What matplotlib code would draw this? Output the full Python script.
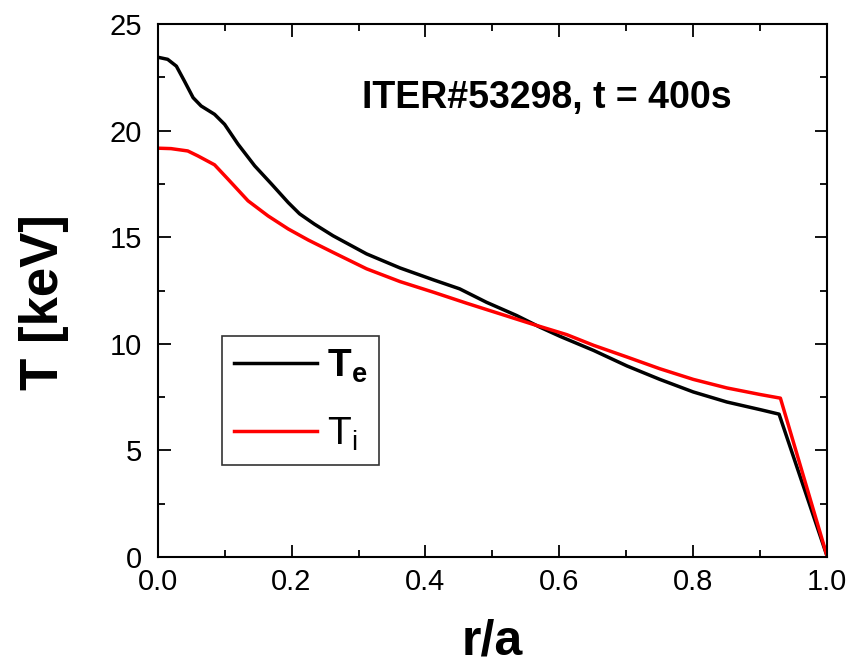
import matplotlib
matplotlib.use('Agg')
import matplotlib.pyplot as plt
from matplotlib.ticker import MultipleLocator

plt.rcParams['font.family'] = ['Liberation Sans', 'DejaVu Sans']
plt.rcParams['mathtext.fontset'] = 'custom'
plt.rcParams['mathtext.rm'] = 'Liberation Sans'
plt.rcParams['mathtext.bf'] = 'Liberation Sans:bold'
plt.rcParams['mathtext.it'] = 'Liberation Sans:italic'

# profiles
r_e = [0.0, 0.015, 0.028, 0.04, 0.053, 0.065, 0.085, 0.1, 0.12, 0.145, 0.17, 0.195,
       0.212, 0.234, 0.262, 0.312, 0.362, 0.412, 0.451, 0.491, 0.536, 0.571, 0.601,
       0.651, 0.701, 0.75, 0.8, 0.85, 0.9, 0.928, 1.0]
te = [23.45, 23.35, 23.03, 22.33, 21.55, 21.16, 20.77, 20.3, 19.37, 18.35, 17.5, 16.63,
      16.1, 15.62, 15.07, 14.22, 13.56, 13.0, 12.58, 11.95, 11.33, 10.78, 10.35,
      9.69, 8.96, 8.33, 7.74, 7.27, 6.91, 6.7, 0.0]

r_i = [0.0, 0.02, 0.045, 0.06, 0.085, 0.105, 0.135, 0.165, 0.195, 0.225, 0.262, 0.312,
       0.362, 0.412, 0.461, 0.511, 0.561, 0.611, 0.651, 0.701, 0.75, 0.8, 0.85, 0.9,
       0.93, 1.0]
ti = [19.18, 19.16, 19.05, 18.82, 18.4, 17.73, 16.71, 16.0, 15.39, 14.87, 14.29, 13.52,
      12.92, 12.42, 11.91, 11.41, 10.91, 10.43, 9.93, 9.38, 8.83, 8.33, 7.93, 7.62,
      7.45, 0.0]

fig = plt.figure(figsize=(8.52, 6.71), dpi=100)
ax = fig.add_axes([0.185, 0.170, 0.786, 0.794])

ax.plot(r_e, te, color='black', lw=2.5, label=r'$\mathbf{T_e}$')
ax.plot(r_i, ti, color='red', lw=2.5, label=r'$\mathrm{T_i}$')

ax.set_xlim(0, 1.0)
ax.set_ylim(0, 25)
ax.xaxis.set_major_locator(MultipleLocator(0.2))
ax.xaxis.set_minor_locator(MultipleLocator(0.1))
ax.yaxis.set_major_locator(MultipleLocator(5))
ax.yaxis.set_minor_locator(MultipleLocator(2.5))
ax.tick_params(which='both', direction='in', top=True, right=True, width=1.3, labelsize=21)
ax.tick_params(which='major', length=9)
ax.tick_params(which='minor', length=5)
ax.tick_params(axis='x', pad=8)
ax.tick_params(axis='y', pad=11)
ax.xaxis.set_major_formatter(plt.FuncFormatter(lambda v, p: f'{v:.1f}'))
for s in ax.spines.values():
    s.set_linewidth(1.5)

ax.set_xlabel('r/a', fontsize=36, fontweight='bold', labelpad=16)
ax.set_ylabel('T [keV]', fontsize=38, fontweight='bold')
ax.yaxis.set_label_coords(-0.133, 0.478)

ax.text(0.305, 0.862, 'ITER#53298, t = 400s', transform=ax.transAxes,
        fontsize=27, fontweight='bold', ha='left', va='center')

leg = ax.legend(loc='upper left', bbox_to_anchor=(0.096, 0.415), fontsize=28,
                frameon=True, fancybox=False, edgecolor='black', handlelength=2.15,
                labelspacing=0.8, borderpad=0.3, borderaxespad=0, handletextpad=0.25)
leg.get_frame().set_linewidth(1.2)

fig.savefig('out.png', dpi=100)
